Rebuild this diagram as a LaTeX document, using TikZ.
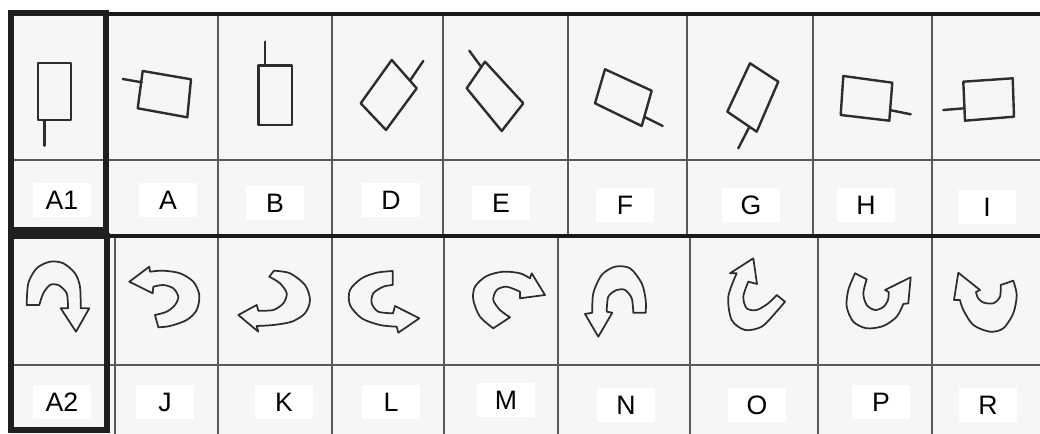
\documentclass[tikz,border=0pt]{standalone}
\usepackage{fontspec}
\setmainfont{Liberation Sans}
\definecolor{bgc}{RGB}{246,246,246}
\definecolor{ink}{RGB}{45,45,45}
\begin{document}
\begin{tikzpicture}[x=0.75pt,y=-0.75pt,
  boxline/.style={draw=black!88,line width=4.5pt},
  topline/.style={draw=black!90,line width=3pt},
  gridline/.style={draw=black!65,line width=1pt},
  fig/.style={draw=ink,line width=1.8pt,line join=round,line cap=round},
  arr/.style={draw=ink,line width=1.3pt,line join=round},
  lab/.style={fill=white,minimum width=43.5pt,minimum height=26pt,inner sep=0pt,
    font=\fontsize{20}{24}\selectfont}]
\useasboundingbox (0,0) rectangle (1040,434);
\fill[white] (0,0) rectangle (1040,434);
\fill[bgc] (10,13) rectangle (1040,434);
% thin grid
\draw[gridline] (10,160) -- (1040,160);
\draw[gridline] (10,365) -- (1040,365);
\foreach \x in {218,332,443,568,687,813,932} \draw[gridline] (\x,15) -- (\x,236);
\foreach \x in {115,218,332,444,558,690,818,932} \draw[gridline] (\x,236) -- (\x,434);
% thick lines
\draw[topline] (106,14.5) -- (1040,14.5);
\draw[topline,line width=3.6pt] (106,236) -- (1040,236);
\draw[boxline] (10.5,13.5) rectangle (106,230.5);
\draw[boxline] (11,236.5) rectangle (106.5,430.5);
% labels top
\node[lab] (lA1) at (62,200) {A1};
\node[lab] (lA) at (168,200) {A};
\node[lab] (lB) at (275,203) {B};
\node[lab] (lD) at (391,200) {D};
\node[lab] (lE) at (501,203) {E};
\node[lab] (lF) at (625,205) {F};
\node[lab] (lG) at (751,205) {G};
\node[lab] (lH) at (866,205) {H};
\node[lab] (lI) at (987,207) {I};
% labels bottom
\node[lab] (lA2) at (62,402) {A2};
\node[lab] (lJ) at (165,402) {J};
\node[lab] (lK) at (284,402) {K};
\node[lab] (lL) at (391,402) {L};
\node[lab] (lM) at (506,400) {M};
\node[lab] (lN) at (626,405) {N};
\node[lab] (lO) at (757,405) {O};
\node[lab] (lP) at (881,402) {P};
\node[lab] (lR) at (988,405) {R};
% rectangle figures
\draw[fig] (37.7,63.3) rectangle (71,120); \draw[fig] (44.3,120) -- (44.3,145.7);
\draw[fig] (142.7,71) -- (191,79.3) -- (187.3,117.3) -- (137.7,108.3) -- cycle; \draw[fig] (122.7,79) -- (141.7,82.3);
\draw[fig] (258.3,65.7) rectangle (291.7,125); \draw[fig] (265,41.7) -- (265,65.7);
\draw[fig] (391.7,60) -- (416.7,88.3) -- (386,130) -- (360.7,103.3) -- cycle; \draw[fig] (409.9,80.7) -- (423.3,61);
\draw[fig] (485,61.7) -- (523.3,103.3) -- (501.7,131) -- (466.7,88.3) -- cycle; \draw[fig] (481.3,67) -- (469.3,50.7);
\draw[fig] (605,69.3) -- (651.7,90.7) -- (641.7,126) -- (595,103.3) -- cycle; \draw[fig] (644.3,116.8) -- (662.7,126);
\draw[fig] (750,63.3) -- (778.3,81.7) -- (756.7,131.7) -- (727.3,111.7) -- cycle; \draw[fig] (749.4,126.7) -- (738.3,148.3);
\draw[fig] (843.3,76) -- (892.3,82.7) -- (889.3,120.7) -- (840.7,115) -- cycle; \draw[fig] (890.1,110.1) -- (910.7,114.3);
\draw[fig] (963.3,81.7) -- (1012.7,78.3) -- (1014,116.7) -- (965,120.7) -- cycle; \draw[fig] (964.5,108.3) -- (943.3,110);
% arrows
% A2
\draw[arr] plot[smooth] coordinates {(26.7,305) (28.3,283.3) (36.7,268.3) (50,261.7) (63.3,263.3) (75,273.3) (80,286.7) (80.7,308.3)}
  -- (89.3,308.3) -- (76,331.7) -- (60.7,308.3)
  -- plot[smooth] coordinates {(68,308.3) (66.7,293.3) (58.3,285) (50,285) (43.3,293.3) (39.3,305)} -- cycle;
% J
\draw[arr] (129.3,281.7) -- (149.3,266.7)
  -- plot[smooth] coordinates {(150,271.7) (163.3,270.7) (180,273.3) (193.3,281.7) (199.3,295) (196.7,310) (186.7,320) (170,326) (158.3,327.3)}
  -- plot[smooth] coordinates {(155,315) (166.7,311.7) (175,305) (178.3,296.7) (173.3,288.3) (163.3,285) (153.3,286.7)}
  -- (152.7,293.3) -- cycle;
% K
\draw[arr] plot[smooth] coordinates {(274,270.7) (290,273.3) (305,285) (310,300) (305,313.3) (291.7,321.7) (273.3,325) (256.7,326)}
  -- (258.3,331.7) -- (238.3,315) -- (256.7,305)
  -- plot[smooth] coordinates {(258.3,310.7) (273.3,310) (283.3,303.3) (286.7,293.3) (280,283.3) (269.3,276.7)} -- cycle;
% L
\draw[arr] (392.7,271)
  -- plot[smooth] coordinates {(392.7,285) (383.3,286.7) (373.3,293.3) (371.7,303.3) (378.3,311.7) (393,313.3)}
  -- (395,306) -- (419.3,318.3) -- (398.3,332.7)
  -- plot[smooth] coordinates {(396.7,326.7) (380,325) (361.7,318.3) (350,305) (350,290) (361.7,278.3) (376.7,272.7) (392.7,271)} -- cycle;
% M
\draw[arr] plot[smooth] coordinates {(493.3,328.3) (480,316.7) (473.3,300) (475,286.7) (486.7,276) (503.3,271.7) (520,273.3) (530,278.3)}
  -- (531.7,273.3) -- (545,295) -- (520,298.3)
  -- plot[smooth] coordinates {(520,291.7) (506.7,286.7) (496.7,290) (493.3,300) (500,310) (510,317.3)} -- cycle;
% N
\draw[arr] (645.7,312.7)
  -- plot[smooth] coordinates {(633.3,312.7) (631.7,298.3) (625,290) (616.7,290) (608.3,296.7) (606.7,311.7)}
  -- (612.3,312.7) -- (598.3,336.7) -- (585,314)
  -- plot[smooth] coordinates {(592.3,312.7) (593.3,293.3) (601.7,275) (615,266.7) (630,268.3) (641.7,283.3) (645.7,300) (645.7,312.7)} -- cycle;
% O
\draw[arr] (753.3,258.3) -- (730,273.3)
  -- plot[smooth] coordinates {(736.7,273.3) (728.3,296.7) (731.7,320) (745,330) (761.7,326.7) (775,313.3) (785,301.7)}
  -- plot[smooth] coordinates {(776.7,295) (768.3,303.3) (756.7,310) (746.7,308.3) (743.3,296.7) (748.3,281.7)}
  -- (757,284) -- cycle;
% P
\draw[arr] (855,273.3)
  -- plot[smooth] coordinates {(866.7,279.3) (863.3,293.3) (866.7,305) (875,310) (883.3,307) (888,300) (888.7,292)}
  -- (885,290) -- (910.7,277.3) -- (908.3,303.3)
  -- plot[smooth] coordinates {(903.3,304) (896.7,316.7) (883.3,326) (866.7,328.3) (853.3,321.7) (846.7,306.7) (848.3,290) (855,273.3)} -- cycle;
% R
\draw[arr] (958.3,272.7) -- (980,290)
  -- plot[smooth] coordinates {(976,292) (978,298) (983.3,302.5) (993.3,303.3) (1000,296.7) (1000.7,285)}
  -- plot[smooth] coordinates {(1013.3,280.7) (1016.7,295) (1013.3,313.3) (1003.3,328.3) (990,331.7) (973.3,325) (963.3,310) (960,300)}
  -- (954,300) -- cycle;
\end{tikzpicture}
\end{document}
